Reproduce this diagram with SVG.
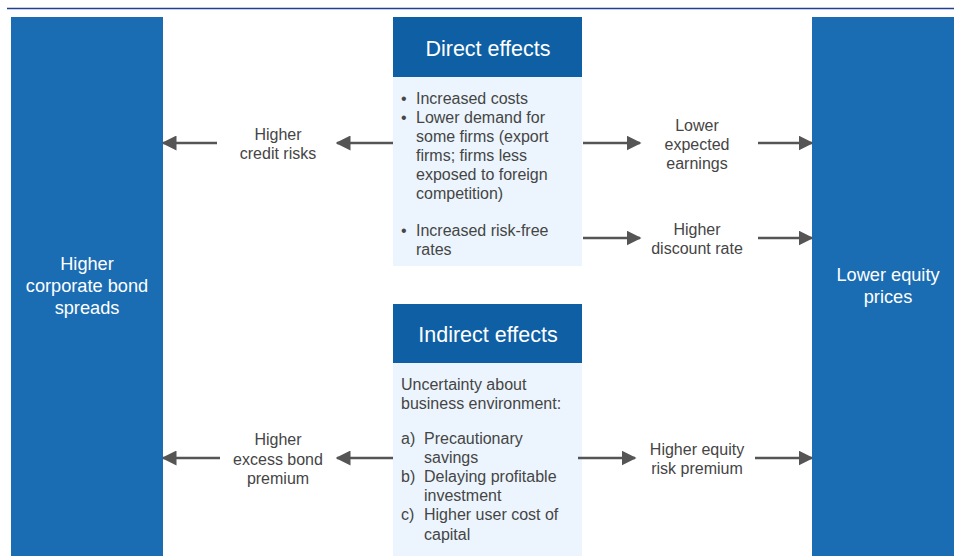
<svg xmlns="http://www.w3.org/2000/svg" width="954" height="556" viewBox="0 0 954 556">
<defs>
<style>
.col{fill:#1a6db3}
.hdr{fill:#0e5fa3}
.body{fill:#ecf5fd}
.t{font-family:"Liberation Sans",Arial,sans-serif;font-size:16px;fill:#454545}
.tc{text-anchor:middle}
.ht{font-family:"Liberation Sans",Arial,sans-serif;font-size:21.5px;fill:#ffffff;text-anchor:middle}
.ct{font-family:"Liberation Sans",Arial,sans-serif;font-size:18.2px;fill:#ffffff;text-anchor:middle}
.a{stroke:#555555;stroke-width:2.5;fill:none;marker-end:url(#ah)}
</style>
<marker id="ah" viewBox="0 0 10 10" refX="9" refY="5" markerWidth="6" markerHeight="6" markerUnits="strokeWidth" orient="auto">
<path d="M0,0 L10,5 L0,10 z" fill="#555555"/>
</marker>
</defs>
<rect x="0" y="0" width="954" height="556" fill="#ffffff"/>
<line x1="7" y1="8.5" x2="954" y2="8.5" stroke="#1f3f94" stroke-width="1.5"/>

<g id="left-column">
<rect class="col" x="11" y="17" width="152" height="539"/>
<text class="ct" x="87" y="270">Higher</text>
<text class="ct" x="87" y="292">corporate bond</text>
<text class="ct" x="87" y="314">spreads</text>
</g>

<g id="right-column">
<rect class="col" x="812" y="17" width="142" height="539"/>
<text class="ct" x="888" y="281">Lower equity</text>
<text class="ct" x="888" y="303">prices</text>
</g>

<g id="direct-effects">
<rect class="hdr" x="393" y="17" width="189" height="60"/>
<rect class="body" x="393" y="77" width="189" height="189"/>
<text class="ht" x="488" y="56">Direct effects</text>
<g class="t">
<text x="401" y="104">•</text><text x="416" y="104">Increased costs</text>
<text x="401" y="123">•</text><text x="416" y="123">Lower demand for</text>
<text x="416" y="142">some firms (export</text>
<text x="416" y="161">firms; firms less</text>
<text x="416" y="180">exposed to foreign</text>
<text x="416" y="199">competition)</text>
<text x="401" y="236">•</text><text x="416" y="236">Increased risk-free</text>
<text x="416" y="255">rates</text>
</g>
</g>

<g id="indirect-effects">
<rect class="hdr" x="393" y="304" width="189" height="59"/>
<rect class="body" x="393" y="363" width="189" height="193"/>
<text class="ht" x="488" y="342">Indirect effects</text>
<g class="t">
<text x="401" y="390">Uncertainty about</text>
<text x="401" y="409">business environment:</text>
<text x="401" y="444">a)</text><text x="424" y="444">Precautionary</text>
<text x="424" y="463">savings</text>
<text x="401" y="482">b)</text><text x="424" y="482">Delaying profitable</text>
<text x="424" y="501">investment</text>
<text x="401" y="520">c)</text><text x="424" y="520">Higher user cost of</text>
<text x="424" y="540">capital</text>
</g>
</g>

<g id="credit-risks">
<text class="t tc" x="278" y="140">Higher</text>
<text class="t tc" x="278" y="159">credit risks</text>
</g>
<g id="expected-earnings">
<text class="t tc" x="697" y="131">Lower</text>
<text class="t tc" x="697" y="150">expected</text>
<text class="t tc" x="697" y="169">earnings</text>
</g>
<g id="discount-rate">
<text class="t tc" x="697" y="235">Higher</text>
<text class="t tc" x="697" y="254">discount rate</text>
</g>
<g id="excess-bond-premium">
<text class="t tc" x="278" y="445">Higher</text>
<text class="t tc" x="278" y="465">excess bond</text>
<text class="t tc" x="278" y="484">premium</text>
</g>
<g id="equity-risk-premium">
<text class="t tc" x="697" y="455">Higher equity</text>
<text class="t tc" x="697" y="474">risk premium</text>
</g>

<g id="connectors">
<line class="a" x1="393" y1="143" x2="337" y2="143"/>
<line class="a" x1="217" y1="143" x2="163" y2="143"/>
<line class="a" x1="583" y1="143" x2="640" y2="143"/>
<line class="a" x1="758" y1="143" x2="812" y2="143"/>
<line class="a" x1="583" y1="238" x2="640" y2="238"/>
<line class="a" x1="758" y1="238" x2="812" y2="238"/>
<line class="a" x1="393" y1="458" x2="337" y2="458"/>
<line class="a" x1="220" y1="458" x2="163" y2="458"/>
<line class="a" x1="578" y1="458" x2="635" y2="458"/>
<line class="a" x1="755" y1="458" x2="812" y2="458"/>
</g>
</svg>
